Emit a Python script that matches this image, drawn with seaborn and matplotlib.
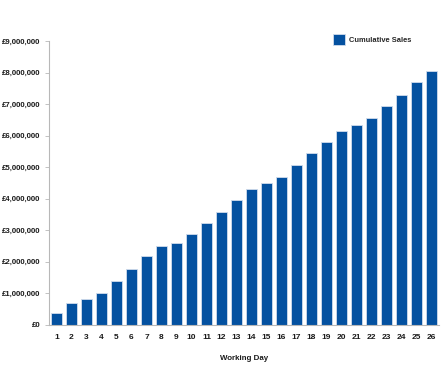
import numpy as np
import pandas as pd
import matplotlib
matplotlib.use("Agg")
import matplotlib.pyplot as plt
import seaborn as sns
from matplotlib.ticker import FuncFormatter, FixedLocator

# data
days = list(range(1, 27))
cumulative_sales = [
    360000, 680000, 820000, 1020000, 1390000, 1780000, 2170000, 2490000,
    2580000, 2890000, 3240000, 3590000, 3950000, 4300000, 4480000, 4700000,
    5060000, 5440000, 5790000, 6150000, 6330000, 6550000, 6950000, 7300000,
    7700000, 8050000,
]
y_ticks = list(range(0, 9000001, 1000000))

BAR_BLUE = "#0451a0"
AXIS_GREY = "#b8b8b8"
TEXT = "#1a1a1a"
FS = 5.4

sns.set_style("white")
plt.rcParams["font.family"] = ["Liberation Sans", "DejaVu Sans"]
plt.rcParams["font.weight"] = "bold"

df = pd.DataFrame({"day": [str(d) for d in days], "sales": cumulative_sales})

fig = plt.figure(figsize=(4.45, 3.68), dpi=100)
ax = fig.add_axes([49 / 445, 1 - 324.7 / 368, 390 / 445, (324.7 - 41) / 368])

sns.barplot(data=df, x="day", y="sales", color=BAR_BLUE, width=0.72,
            edgecolor="#d0dcec", linewidth=0.6, saturation=1,
            label="Cumulative Sales", ax=ax)

ax.set_xlim(-0.5, len(days) - 0.5)
ax.set_ylim(0, 9000000)
ax.set_yticks(y_ticks)
ax.yaxis.set_major_formatter(FuncFormatter(lambda v, p: f"£{int(v):,}"))

# small ticks between the bars on the x axis
ax.xaxis.set_minor_locator(FixedLocator(np.arange(-0.5, len(days), 1.0)))
ax.tick_params(axis="x", which="major", length=0, pad=7, labelsize=FS + 0.6, labelcolor=TEXT)
ax.tick_params(axis="x", which="minor", length=2, width=0.6, color=AXIS_GREY, direction="out")
ax.tick_params(axis="y", which="major", length=3, width=0.6, color=AXIS_GREY, pad=3,
               labelsize=FS + 0.2, labelcolor=TEXT, left=True)

for side in ["top", "right"]:
    ax.spines[side].set_visible(False)
for side in ["left", "bottom"]:
    ax.spines[side].set_color(AXIS_GREY)
    ax.spines[side].set_linewidth(0.8)

ax.set_ylabel("")
ax.set_xlabel("Working Day", fontsize=FS + 0.3, fontweight="bold", color=TEXT, labelpad=10)

ax.legend(loc="upper left", bbox_to_anchor=(326 / 445, 1 - 27 / 368),
          bbox_transform=fig.transFigure, frameon=False, fontsize=FS,
          handlelength=1.6, handleheight=2.0, handletextpad=0.6)

fig.savefig("out.png", dpi=100)
